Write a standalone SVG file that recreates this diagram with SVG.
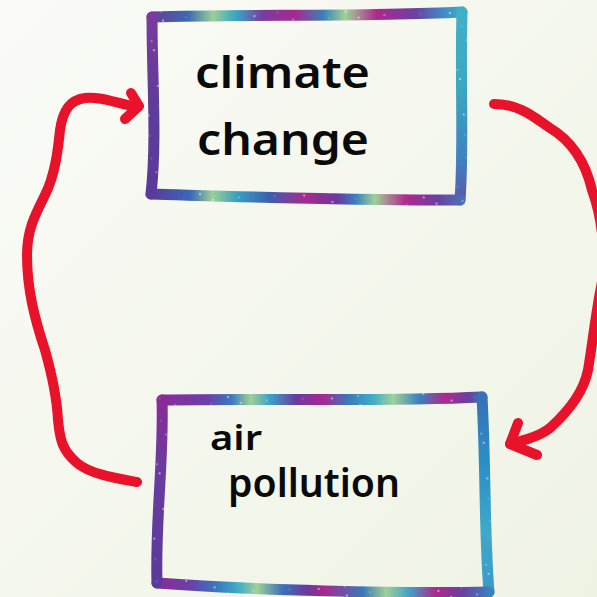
<svg xmlns="http://www.w3.org/2000/svg" width="597" height="597" viewBox="0 0 597 597">
<style>
.edge{fill:none;stroke-width:11;stroke-linecap:round;stroke-linejoin:round}
.spark{fill:none;stroke:url(#sparkle);stroke-width:11;stroke-linecap:round}
.hand{font-family:"Noto Sans","DejaVu Sans",sans-serif;font-weight:600;fill:#0a0a0a}
.arrow{fill:none;stroke:#e8132a;stroke-width:10;stroke-linecap:round;stroke-linejoin:round}
</style>
<defs>
<linearGradient id="bg" x1="0" y1="0" x2="1" y2="1">
<stop offset="0" stop-color="#fafbf7"/><stop offset="1" stop-color="#eff3e4"/>
</linearGradient>
<pattern id="sparkle" width="43" height="31" patternUnits="userSpaceOnUse" patternTransform="rotate(17)">
<circle cx="4" cy="5" r="0.9" fill="#fff" opacity="0.7"/>
<circle cx="19" cy="14" r="0.6" fill="#fff" opacity="0.6"/>
<circle cx="33" cy="3" r="1.1" fill="#fff" opacity="0.6"/>
<circle cx="11" cy="24" r="0.6" fill="#fff" opacity="0.6"/>
<circle cx="28" cy="26" r="0.8" fill="#fff" opacity="0.7"/>
</pattern>
<linearGradient id="g1top" gradientUnits="userSpaceOnUse" x1="150" y1="0" x2="465" y2="0">
<stop offset="0" stop-color="#6b3c9c"/><stop offset="0.12" stop-color="#3a68b0"/><stop offset="0.2" stop-color="#9ccf98"/><stop offset="0.27" stop-color="#38a8c0"/><stop offset="0.36" stop-color="#7a3aa0"/><stop offset="0.46" stop-color="#a8288f"/><stop offset="0.55" stop-color="#3a80b8"/><stop offset="0.62" stop-color="#a0d098"/><stop offset="0.72" stop-color="#b0288c"/><stop offset="0.84" stop-color="#6a40a0"/><stop offset="0.94" stop-color="#4090c8"/><stop offset="1" stop-color="#40b0c8"/>
</linearGradient>
<linearGradient id="g1right" gradientUnits="userSpaceOnUse" x1="0" y1="12" x2="0" y2="200">
<stop offset="0" stop-color="#40b0c8"/><stop offset="0.4" stop-color="#3aa8c0"/><stop offset="0.8" stop-color="#4080c0"/><stop offset="1" stop-color="#5a5aa8"/>
</linearGradient>
<linearGradient id="g1bot" gradientUnits="userSpaceOnUse" x1="150" y1="0" x2="462" y2="0">
<stop offset="0" stop-color="#5a3a9a"/><stop offset="0.13" stop-color="#3a68b8"/><stop offset="0.2" stop-color="#9ccf98"/><stop offset="0.28" stop-color="#38a0c0"/><stop offset="0.38" stop-color="#3a60b0"/><stop offset="0.5" stop-color="#a8288f"/><stop offset="0.6" stop-color="#6a3a9e"/><stop offset="0.66" stop-color="#3a80c0"/><stop offset="0.72" stop-color="#a0d098"/><stop offset="0.82" stop-color="#b0288c"/><stop offset="0.92" stop-color="#6a40a0"/><stop offset="1" stop-color="#4a70b8"/>
</linearGradient>
<linearGradient id="g1left" gradientUnits="userSpaceOnUse" x1="0" y1="17" x2="0" y2="195">
<stop offset="0" stop-color="#7a3a9e"/><stop offset="0.5" stop-color="#5e3c98"/><stop offset="1" stop-color="#5a3a9a"/>
</linearGradient>
<linearGradient id="g2top" gradientUnits="userSpaceOnUse" x1="160" y1="0" x2="484" y2="0">
<stop offset="0" stop-color="#8a2a98"/><stop offset="0.15" stop-color="#6a40a8"/><stop offset="0.22" stop-color="#3a78c0"/><stop offset="0.28" stop-color="#a0d098"/><stop offset="0.34" stop-color="#3aa0c8"/><stop offset="0.42" stop-color="#6a3aa0"/><stop offset="0.5" stop-color="#a8288f"/><stop offset="0.58" stop-color="#3a78b8"/><stop offset="0.66" stop-color="#40b0c8"/><stop offset="0.72" stop-color="#a0d098"/><stop offset="0.8" stop-color="#3a80c0"/><stop offset="0.88" stop-color="#b0288c"/><stop offset="0.95" stop-color="#6a40a0"/><stop offset="1" stop-color="#3a70b8"/>
</linearGradient>
<linearGradient id="g2right" gradientUnits="userSpaceOnUse" x1="0" y1="397" x2="0" y2="592">
<stop offset="0" stop-color="#3a70b8"/><stop offset="0.35" stop-color="#2a90c8"/><stop offset="0.7" stop-color="#40a8c8"/><stop offset="1" stop-color="#3a9ac8"/>
</linearGradient>
<linearGradient id="g2bot" gradientUnits="userSpaceOnUse" x1="157" y1="0" x2="489" y2="0">
<stop offset="0" stop-color="#8a2a98"/><stop offset="0.1" stop-color="#6a40a8"/><stop offset="0.18" stop-color="#3a78c0"/><stop offset="0.25" stop-color="#40b0c8"/><stop offset="0.3" stop-color="#a0d098"/><stop offset="0.38" stop-color="#3a70b8"/><stop offset="0.45" stop-color="#6a3aa0"/><stop offset="0.5" stop-color="#a8288f"/><stop offset="0.62" stop-color="#3a78b8"/><stop offset="0.69" stop-color="#a0d098"/><stop offset="0.76" stop-color="#40a0c8"/><stop offset="0.84" stop-color="#b0288c"/><stop offset="0.92" stop-color="#6a40a0"/><stop offset="1" stop-color="#3a80c0"/>
</linearGradient>
<linearGradient id="g2left" gradientUnits="userSpaceOnUse" x1="0" y1="400" x2="0" y2="583">
<stop offset="0" stop-color="#8a2a98"/><stop offset="0.4" stop-color="#6a3ca0"/><stop offset="1" stop-color="#5a3a9a"/>
</linearGradient>
</defs>
<rect width="597" height="597" fill="url(#bg)"/>
<g id="climate-change">
<path class="edge" stroke="url(#g1top)" d="M152,17 C250,14 360,17 462,12"/>
<path class="edge" stroke="url(#g1right)" d="M462,12 C460,80 464,150 460,200"/>
<path class="edge" stroke="url(#g1bot)" d="M460,200 C360,201 250,197 151,194"/>
<path class="edge" stroke="url(#g1left)" d="M151,194 C157,140 152,80 152,17"/>
<path class="spark" d="M152,17 C250,14 360,17 462,12 C460,80 464,150 460,200 C360,201 250,197 151,194 C157,140 152,80 152,17"/>
<text class="hand" x="195" y="88" font-size="44" textLength="175" lengthAdjust="spacingAndGlyphs">climate</text>
<text class="hand" x="197" y="155" font-size="44" textLength="172" lengthAdjust="spacingAndGlyphs">change</text>
</g>
<g id="air-pollution">
<path class="edge" stroke="url(#g2top)" d="M162,400 C260,398 380,402 482,397"/>
<path class="edge" stroke="url(#g2right)" d="M482,397 C486,470 484,530 489,592"/>
<path class="edge" stroke="url(#g2bot)" d="M489,592 C400,594 250,590 157,583"/>
<path class="edge" stroke="url(#g2left)" d="M157,583 C155,520 164,460 162,400"/>
<path class="spark" d="M162,400 C260,398 380,402 482,397 C486,470 484,530 489,592 C400,594 250,590 157,583 C155,520 164,460 162,400"/>
<text class="hand" x="210" y="450" font-size="34" textLength="52" lengthAdjust="spacingAndGlyphs">air</text>
<text class="hand" x="228" y="497" font-size="40" textLength="172" lengthAdjust="spacingAndGlyphs">pollution</text>
</g>
<g id="connectors">
<path class="arrow" d="M494,104 C520,104 535,118 550,128 C570,140 585,160 592,190 C603,220 607,262 600,292 C595,320 592,345 588,370 C584,390 570,410 550,428 C540,436 525,440 510,444"/>
<path class="arrow" d="M518,423 L510,444 L537,455"/>
<path class="arrow" d="M137,482 C115,478 90,474 77,463 C62,450 60,440 58,420 C57,400 52,375 45,350 C35,320 27,290 27,255 C27,230 35,215 45,195 C55,175 58,150 60,130 C63,110 70,100 85,98 C100,96 115,103 138,107"/>
<path class="arrow" d="M131,93 L139,106 L125,119"/>
</g>
</svg>
